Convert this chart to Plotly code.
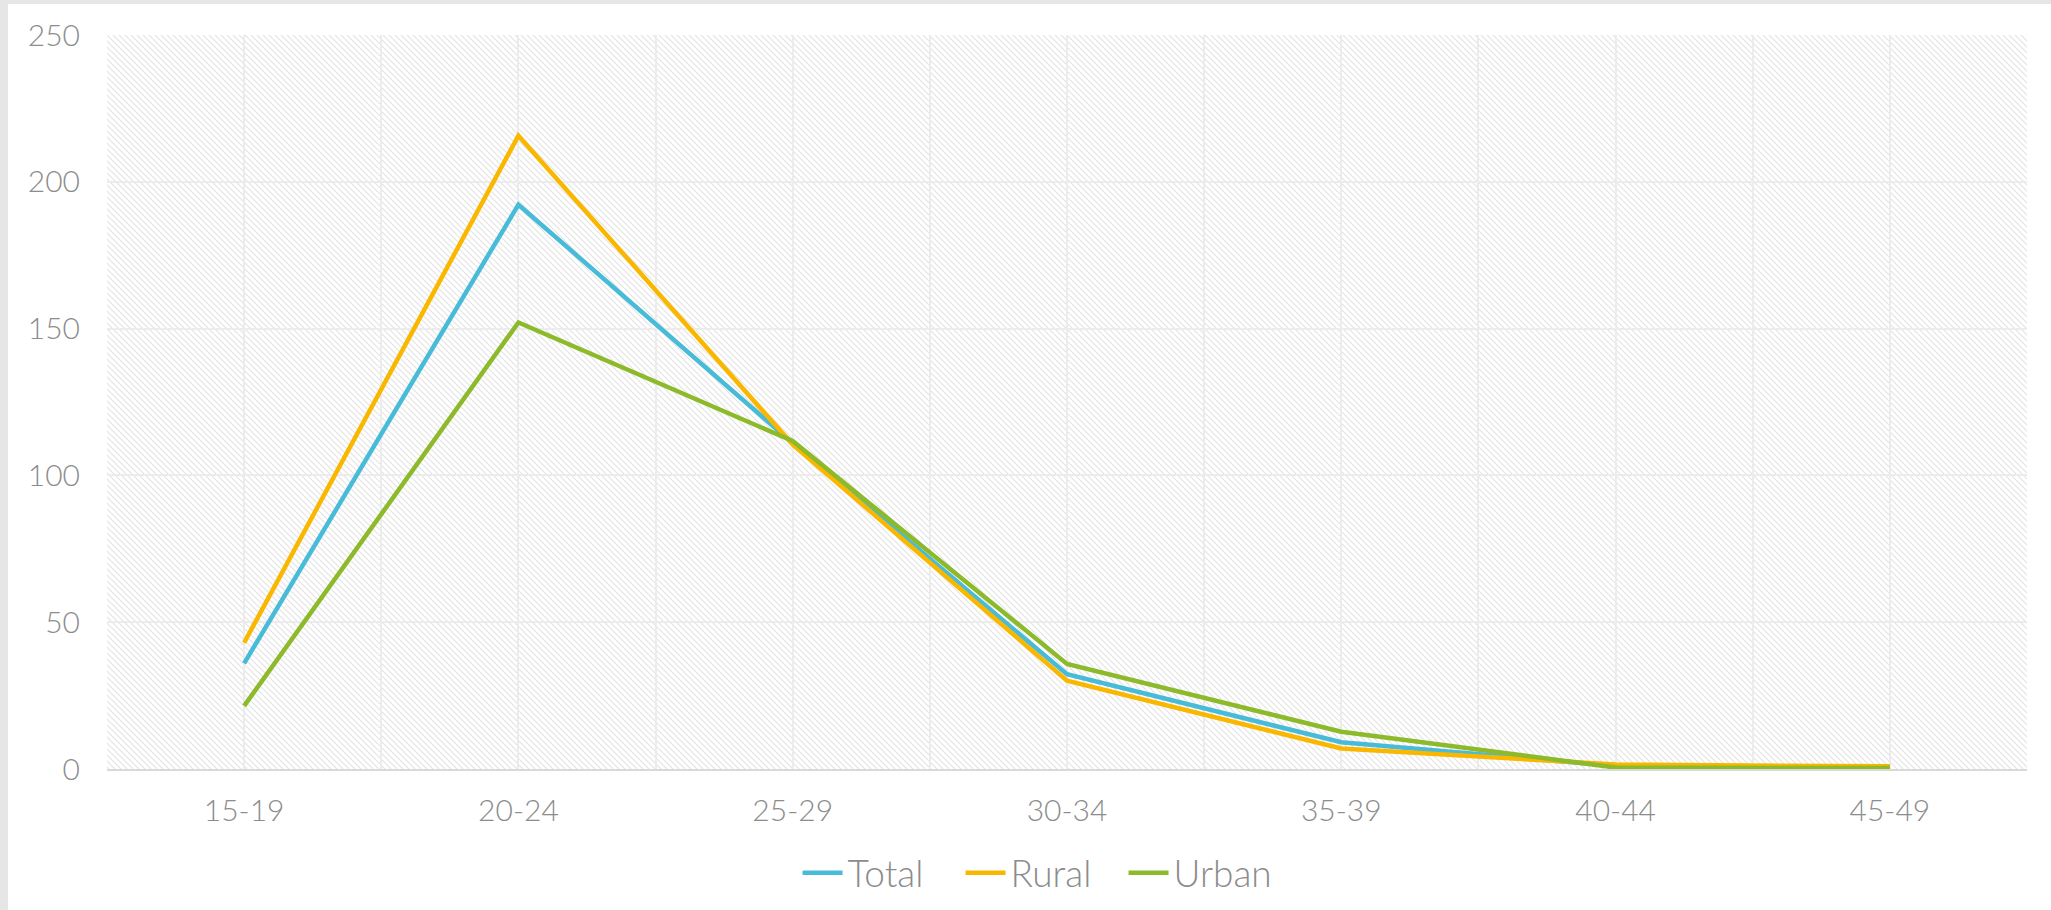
import base64
import plotly.graph_objects as go

# Age-specific values by area of residence
age_groups = ["15-19", "20-24", "25-29", "30-34", "35-39", "40-44", "45-49"]
total = [36.0, 192.2, 111.0, 32.3, 9.1, 1.0, 0.6]
rural = [43.0, 215.7, 110.5, 30.1, 7.0, 1.5, 0.9]
urban = [21.5, 152.1, 111.7, 35.8, 12.7, 0.5, 0.3]

y_ticks = [0, 50, 100, 150, 200, 250]

series = [
    ("Total", total, "#47BBD7"),
    ("Rural", rural, "#F9B700"),
    ("Urban", urban, "#8CBA2A"),
]

W, H = 2051, 910
M_L, M_R, M_T, M_B = 107, 24, 35, 141
PW, PH = W - M_L - M_R, H - M_T - M_B

x_pos = list(range(len(age_groups)))

fig = go.Figure()
for name, vals, color in series:
    fig.add_trace(go.Scatter(
        x=x_pos, y=vals, name=name, mode="lines",
        line=dict(color=color, width=4.5),
        hoverinfo="x+y+name",
    ))

# diagonal hatch fill for the plotting area
hatch_svg = f"""<svg xmlns='http://www.w3.org/2000/svg' width='{PW}' height='{PH}'>
<defs><pattern id='h' patternUnits='userSpaceOnUse' width='6' height='6'>
<path d='M-1,-1 L7,7 M-1,5 L1,7 M5,-1 L7,1' stroke='#e3e3e3' stroke-width='1.1'/>
</pattern></defs>
<rect width='100%' height='100%' fill='white'/>
<rect width='100%' height='100%' fill='url(#h)'/>
</svg>"""
hatch_uri = "data:image/svg+xml;base64," + base64.b64encode(hatch_svg.encode()).decode()

fig.add_layout_image(
    source=hatch_uri, xref="x domain", yref="y domain", x=0, y=1,
    sizex=1, sizey=1, xanchor="left", yanchor="top",
    sizing="stretch", layer="below",
)

# grey page edges around the white card
page_grey = "#e6e6e6"
fig.add_shape(
    type="rect", xref="paper", yref="paper", layer="below",
    x0=-(M_L + 5) / PW, x1=(8 - M_L) / PW,
    y0=-(M_B + 5) / PH, y1=(PH + M_T + 5) / PH,
    fillcolor=page_grey, line=dict(width=0),
)
fig.add_shape(
    type="rect", xref="paper", yref="paper", layer="below",
    x0=-(M_L + 5) / PW, x1=(PW + M_R + 5) / PW,
    y0=(PH + M_T - 4) / PH, y1=(PH + M_T + 5) / PH,
    fillcolor=page_grey, line=dict(width=0),
)

tick_font = dict(family="Lato, sans-serif", size=30, color="#8c8c8c", weight=300)

fig.update_layout(
    width=W, height=H,
    margin=dict(l=M_L, r=M_R, t=M_T, b=M_B, autoexpand=False),
    paper_bgcolor="white",
    plot_bgcolor="rgba(0,0,0,0)",
    font=tick_font,
    showlegend=True,
    legend=dict(
        orientation="h", x=0.487, xanchor="center",
        y=-0.142, yanchor="middle",
        font=dict(family="Lato, sans-serif", size=37, color="#8c8c8c", weight=300),
        bgcolor="rgba(0,0,0,0)", itemwidth=40,
        entrywidth=108, entrywidthmode="pixels",
    ),
    xaxis=dict(
        range=[-0.5, len(age_groups) - 0.5],
        tickmode="array", tickvals=x_pos, ticktext=age_groups,
        showgrid=True, gridcolor="#ececec", gridwidth=2,
        minor=dict(tickmode="linear", tick0=-0.5, dtick=1,
                   showgrid=True, gridcolor="#ececec", gridwidth=2),
        showline=True, linecolor="#d9d9d9", linewidth=2,
        zeroline=False, ticks="", ticklabelstandoff=14,
        tickfont=tick_font,
    ),
    yaxis=dict(
        range=[0, 250], tickmode="array", tickvals=y_ticks,
        showgrid=True, gridcolor="#ececec", gridwidth=2,
        zeroline=False, showline=False, ticks="",
        ticklabelstandoff=26, tickfont=tick_font,
    ),
)

fig.write_html("out.html")
